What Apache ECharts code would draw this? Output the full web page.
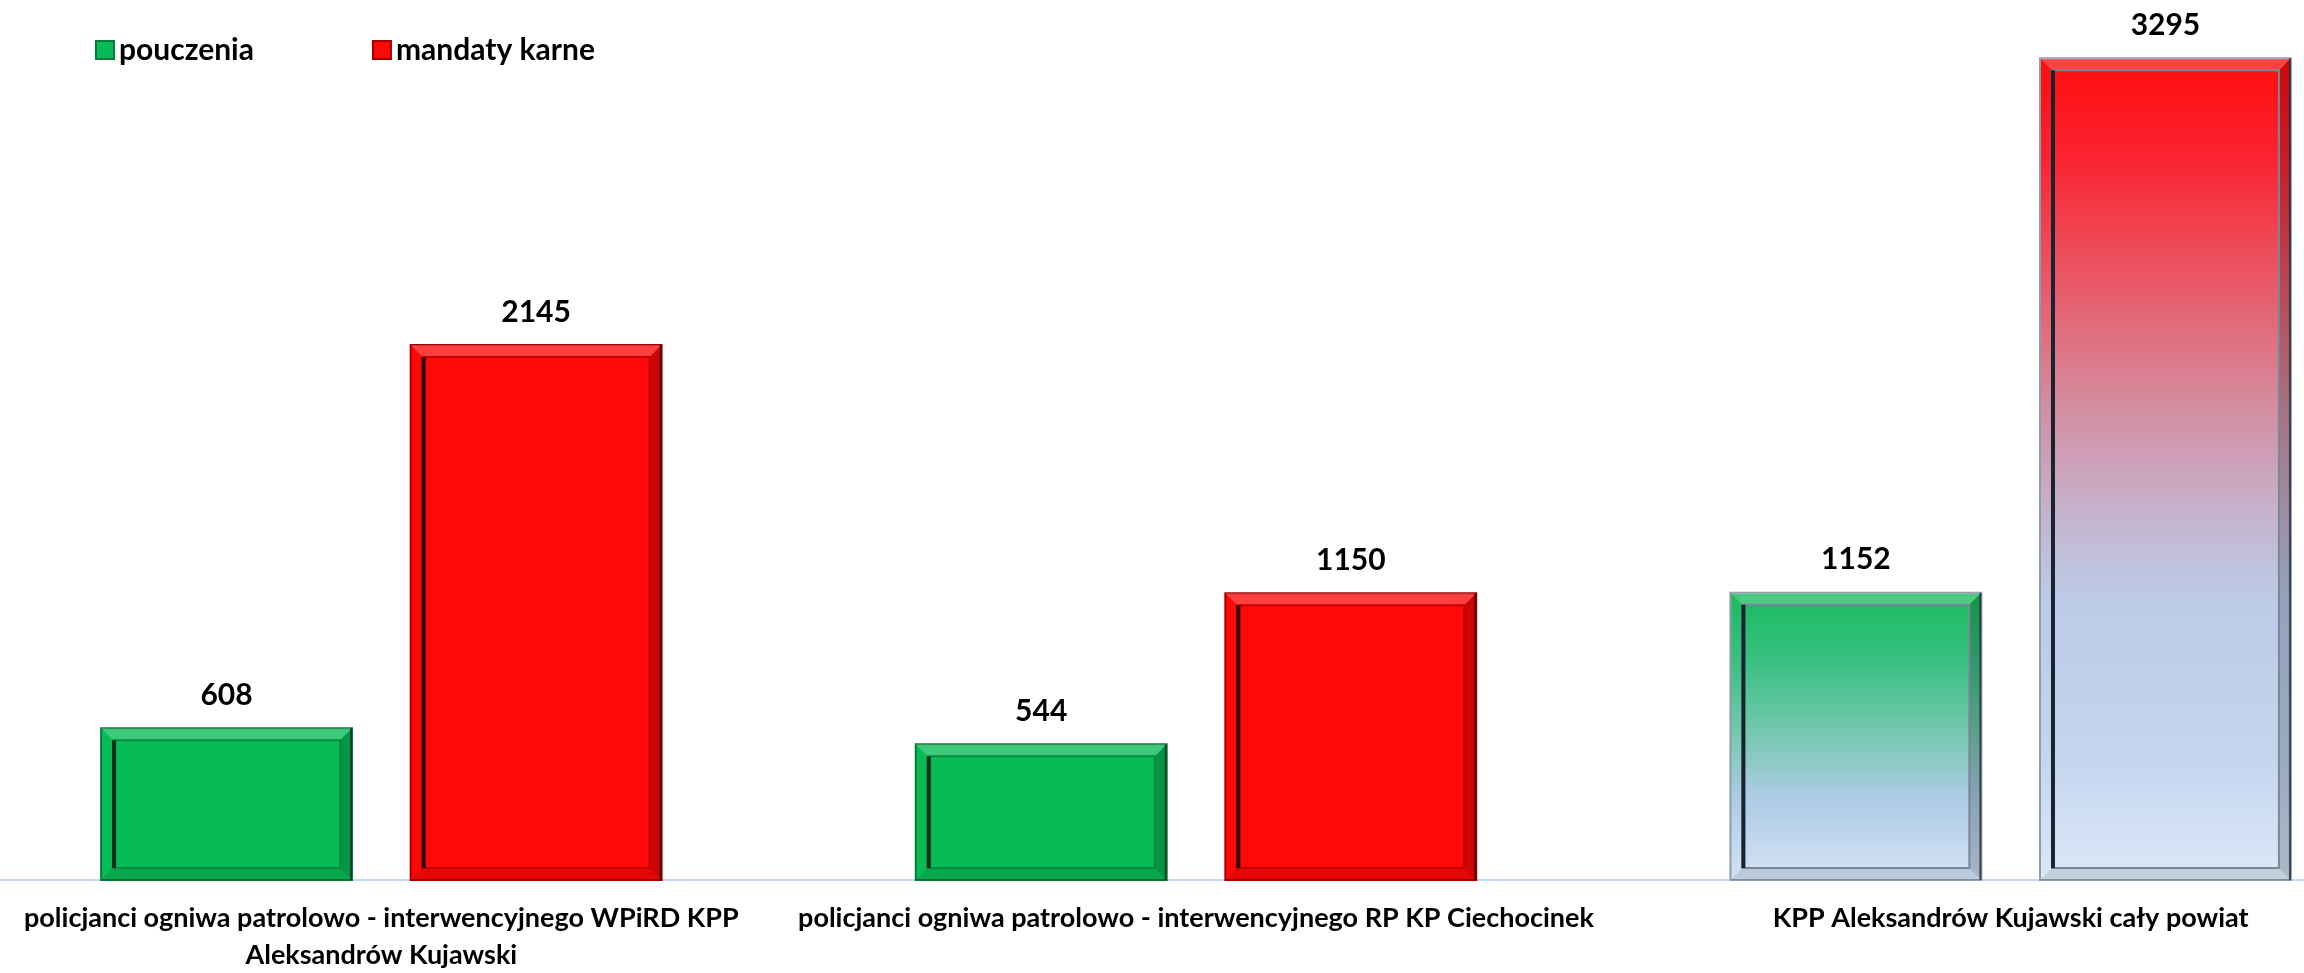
<!DOCTYPE html>
<html>
<head>
<meta charset="utf-8">
<script src="https://cdn.jsdelivr.net/npm/echarts@6/dist/echarts.min.js"></script>
<style>
    html, body { margin: 0; padding: 0; background: #fff; }
    #main { width: 2304px; height: 973px; }
</style>
</head>
<body>
<div id="main"></div>
<script>
// dane z wykresu
var categories = [
    'policjanci ogniwa patrolowo - interwencyjnego WPiRD KPP\nAleksandrów Kujawski',
    'policjanci ogniwa patrolowo - interwencyjnego RP KP Ciechocinek',
    'KPP Aleksandrów Kujawski cały powiat'
];
var seriesNames = ['pouczenia', 'mandaty karne'];
var pouczenia = [608, 544, 1152];
var mandaty = [2145, 1150, 3295];

(function() {
    var FONT = 'Lato, "Open Sans", sans-serif';
    var BAR_RATIO = 0.308;   // szerokosc slupka / szerokosc kategorii
    var GAP_RATIO = 0.072;   // odstep miedzy slupkami w grupie

    function grad(stops) {
        return new echarts.graphic.LinearGradient(0, 0, 0, 1, stops.map(function(s) {
            return {offset: s[0], color: s[1]};
        }));
    }

    // wyglad slupkow: [seria][kategoria]
    var greenPlain = {fill: '#07bb56', edge: '#0a7a3a', inner: '#0b8a44', dark: '#0c2e18'};
    var redPlain = {fill: '#ff0808', edge: '#a80000', inner: '#c20000', dark: '#2e0000'};
    var greenFade = {
        fill: grad([[0, '#18ba5c'], [0.25, '#3cc084'], [0.5, '#78c9b2'], [0.72, '#afcbe6'], [1, '#d4e3f6']]),
        edge: '#8e9cad', inner: '#7a8797', dark: '#1a2330'
    };
    var redFade = {
        fill: grad([[0, '#ff0c0c'], [0.12, '#fb2330'], [0.28, '#e85b6a'], [0.42, '#d48c9f'],
            [0.55, '#c6b2cc'], [0.66, '#bccbe8'], [0.85, '#c3d5ef'], [1, '#dce8f8']]),
        edge: '#8e9cad', inner: '#7a8797', dark: '#1a2330'
    };
    var skins = [
        [greenPlain, greenPlain, greenFade],
        [redPlain, redPlain, redFade]
    ];

    function renderBar(params, api) {
        var idx = api.value(0);
        var val = api.value(1);
        var base = api.coord([idx, 0]);
        var top = api.coord([idx, val]);
        var band = api.size([1, 0])[0];
        var w = band * BAR_RATIO, gap = band * GAP_RATIO;
        var shift = (w + gap) / 2 * (params.seriesIndex === 0 ? -1 : 1);
        var x = base[0] + shift - w / 2;
        var y = top[1], h = base[1] - top[1];
        var sk = skins[params.seriesIndex][idx];
        var b = 12; // faza
        return {
            type: 'group',
            children: [
                {type: 'rect', shape: {x: x, y: y, width: w, height: h},
                    style: {fill: sk.fill, stroke: sk.edge, lineWidth: 2}},
                {type: 'polygon', shape: {points: [[x, y], [x + w, y], [x + w - b, y + b], [x + b, y + b]]},
                    style: {fill: 'rgba(255,255,255,0.22)'}},
                {type: 'polygon', shape: {points: [[x + w, y], [x + w, y + h], [x + w - b, y + h - b], [x + w - b, y + b]]},
                    style: {fill: 'rgba(0,0,0,0.2)'}},
                {type: 'polygon', shape: {points: [[x, y + h], [x + w, y + h], [x + w - b, y + h - b], [x + b, y + h - b]]},
                    style: {fill: 'rgba(0,0,0,0.1)'}},
                {type: 'rect', shape: {x: x + b, y: y + b, width: w - 2 * b, height: h - 2 * b},
                    style: {fill: null, stroke: sk.inner, lineWidth: 2}},
                {type: 'line', shape: {x1: x + b + 1, y1: y + b, x2: x + b + 1, y2: y + h - b},
                    style: {stroke: sk.dark, lineWidth: 4}},
                {type: 'line', shape: {x1: x + w - 1, y1: y, x2: x + w - 1, y2: y + h},
                    style: {stroke: sk.dark, lineWidth: 2, opacity: 0.7}},
                {type: 'text', style: {
                    text: String(val), x: x + w / 2, y: y - 18,
                    align: 'center', verticalAlign: 'bottom',
                    font: 'bold 30px ' + FONT, fill: '#000'
                }}
            ]
        };
    }

    function toData(arr) {
        return arr.map(function(v, i) { return [i, v]; });
    }

    var chart = echarts.init(document.getElementById('main'));
    chart.setOption({
        backgroundColor: '#fff',
        animation: false,
        legend: {
            left: 90,
            top: 30,
            itemWidth: 18,
            itemHeight: 18,
            itemGap: 118,
            icon: 'rect',
            textStyle: {fontFamily: FONT, fontWeight: 'bold', fontSize: 30, color: '#000'},
            data: seriesNames
        },
        grid: {left: -26, right: -114, top: 7, bottom: 93, outerBoundsMode: 'none', containLabel: false},
        xAxis: {
            type: 'category',
            data: categories,
            axisLine: {lineStyle: {color: '#c8d8ee', width: 2}},
            axisTick: {show: false},
            axisLabel: {
                interval: 0,
                margin: 20,
                color: '#000',
                fontFamily: FONT,
                fontWeight: 'bold',
                fontSize: 27,
                lineHeight: 37,
                align: 'center'
            }
        },
        yAxis: {type: 'value', min: 0, max: 3500, show: false, splitLine: {show: false}},
        series: [
            {name: seriesNames[0], type: 'custom', renderItem: renderBar, data: toData(pouczenia),
                itemStyle: {color: '#07bb56', borderColor: '#0a7a3a', borderWidth: 1}},
            {name: seriesNames[1], type: 'custom', renderItem: renderBar, data: toData(mandaty),
                itemStyle: {color: '#ff0808', borderColor: '#a80000', borderWidth: 1}}
        ]
    });
})();
</script>
</body>
</html>
